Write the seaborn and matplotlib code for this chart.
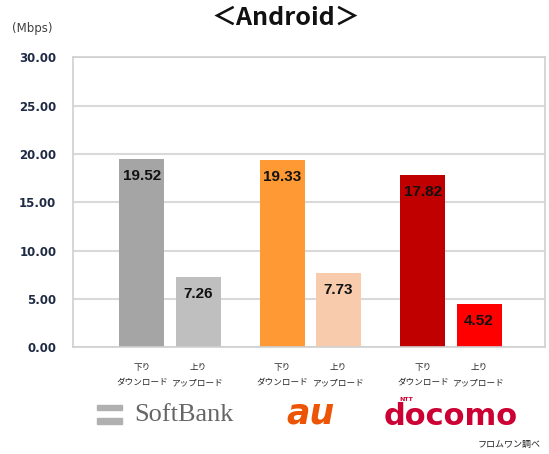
import pandas as pd
import matplotlib
matplotlib.use('Agg')
import matplotlib.pyplot as plt
import matplotlib.transforms as mtransforms
from matplotlib.patches import Rectangle
import seaborn as sns

### Android speed data (Mbps)
carriers = ['SoftBank', 'au', 'docomo']
directions = ['下り\nダウンロード', '上り\nアップロード']
download = [19.52, 19.33, 17.82]
upload = [7.26, 7.73, 4.52]
bar_colors = ['#a5a5a5', '#bfbfbf', '#ff9933', '#f8cbad', '#c00000', '#ff0000']

df = pd.DataFrame({
    'carrier': carriers * 2,
    'direction': [directions[0]] * 3 + [directions[1]] * 3,
    'speed': download + upload,
})

sns.set_style('white')
plt.rcParams['font.family'] = ['Noto Sans CJK JP', 'DejaVu Sans']

fig = plt.figure(figsize=(5.49, 4.54), dpi=100)
ax = fig.add_axes([0.133, 0.235, 0.860, 0.639])

sns.barplot(data=df, x='carrier', y='speed', hue='direction', order=carriers,
            hue_order=directions, width=0.8, gap=0.2, legend=False, ax=ax,
            errorbar=None)

## recolor each bar, left to right
bars = sorted(ax.patches, key=lambda p: p.get_x())
for b, c in zip(bars, bar_colors):
    b.set_facecolor(c)
    b.set_edgecolor('none')

## value labels inside top of bars
for b in bars:
    h = b.get_height()
    ax.annotate(f'{h:.2f}', (b.get_x() + b.get_width() / 2, h),
                xytext=(0, -17), textcoords='offset pixels',
                ha='center', va='center', fontsize=11, fontweight='bold',
                color='#111111', family='Liberation Sans')

ax.set_ylim(0, 30)
ax.set_xlim(-0.69, 2.67)
ax.set_yticks(range(0, 31, 5))
ax.set_yticklabels([f'{v:.2f}' for v in range(0, 31, 5)], fontsize=8.5,
                   fontweight='bold', color='#1f2a44', family='DejaVu Sans')
ax.yaxis.grid(True, color='#d9d9d9', linewidth=1.5)
ax.set_axisbelow(True)

centers = [b.get_x() + b.get_width() / 2 for b in bars]
ax.set_xticks(centers)
ax.set_xticklabels([directions[i % 2] for i in range(6)], fontsize=6.2,
                   linespacing=1.9)
ax.tick_params(axis='x', length=0, pad=11)
ax.tick_params(axis='y', length=0, pad=12)
ax.set_xlabel('')
ax.set_ylabel('')
for s in ax.spines.values():
    s.set_color('#d0d0d0')
    s.set_linewidth(1.2)

## title and unit
fig.text(0.52, 0.96, '＜Android＞', ha='center', va='center', fontsize=18,
         fontweight='bold', color='#111111')
fig.text(0.022, 0.938, '(Mbps)', ha='left', va='center', fontsize=8.5,
         color='#404040', family='DejaVu Sans')

## carrier logos as text
trans = mtransforms.blended_transform_factory(ax.transData, fig.transFigure)
ax.text(0.1, 0.085, 'SoftBank', transform=trans, ha='center', va='center',
        fontsize=19, color='#666666', family='Liberation Serif', clip_on=False)
fig.patches.append(Rectangle((0.176, 0.097), 0.047, 0.012, color='#b0b0b0',
                             transform=fig.transFigure))
fig.patches.append(Rectangle((0.176, 0.067), 0.047, 0.012, color='#b0b0b0',
                             transform=fig.transFigure))
ax.text(1.0, 0.09, 'au', transform=trans, ha='center', va='center',
        fontsize=25, fontweight='bold', fontstyle='italic', color='#eb5505',
        family='DejaVu Sans', clip_on=False)
ax.text(2.0, 0.083, 'docomo', transform=trans, ha='center', va='center',
        fontsize=22, fontweight='bold', color='#cc0033', family='DejaVu Sans',
        clip_on=False)
ax.text(1.68, 0.12, 'NTT', transform=trans, ha='center', va='center',
        fontsize=4.5, fontweight='bold', color='#cc0033', family='DejaVu Sans',
        clip_on=False)
fig.text(0.985, 0.022, 'フロムワン調べ', ha='right', va='center', fontsize=6.5,
         color='#222222')

plt.savefig('out.png', dpi=100)
